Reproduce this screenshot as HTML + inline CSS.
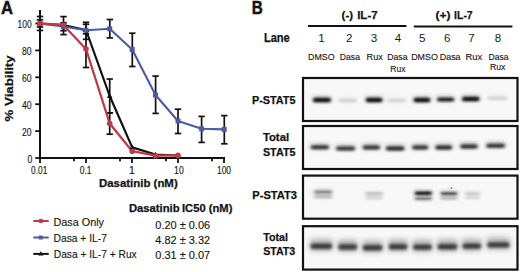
<!DOCTYPE html><html><head><meta charset="utf-8"><style>html,body{margin:0;padding:0;background:#fff;width:520px;height:272px;overflow:hidden}svg{display:block}text{font-family:"Liberation Sans",sans-serif;stroke:#1a1a1a;stroke-width:0.12px}text[font-weight]{stroke-width:0.25px}</style></head><body>
<svg width="520" height="272" viewBox="0 0 520 272">
<defs><filter id="b1" x="-30%" y="-200%" width="160%" height="500%"><feGaussianBlur stdDeviation="1.6 1.1"/></filter><filter id="b2" x="-30%" y="-200%" width="160%" height="500%"><feGaussianBlur stdDeviation="2.2 1.6"/></filter><filter id="bg" x="0" y="0" width="100%" height="100%"><feGaussianBlur stdDeviation="3"/></filter><filter id="b3" x="-30%" y="-200%" width="160%" height="500%"><feGaussianBlur stdDeviation="1.8 1.2"/></filter><filter id="b4" x="-30%" y="-200%" width="160%" height="500%"><feGaussianBlur stdDeviation="1.8 1.5"/></filter><filter id="b5" x="-30%" y="-200%" width="160%" height="500%"><feGaussianBlur stdDeviation="2.6 2.4"/></filter></defs>
<rect width="520" height="272" fill="#fff"/>
<text x="1.0" y="13.7" font-size="17.6" font-weight="bold" textLength="12.0" lengthAdjust="spacingAndGlyphs" fill="#111" style="stroke-width:0.5px">A</text>
<g stroke="#111" stroke-width="2" fill="none">
<line x1="40" y1="10" x2="40" y2="159"/>
<line x1="39" y1="158" x2="225" y2="158"/>
</g>
<g stroke="#111" stroke-width="1.8">
<line x1="35.3" y1="23.5" x2="40" y2="23.5"/>
<line x1="35.3" y1="50.4" x2="40" y2="50.4"/>
<line x1="35.3" y1="77.3" x2="40" y2="77.3"/>
<line x1="35.3" y1="104.2" x2="40" y2="104.2"/>
<line x1="35.3" y1="131.1" x2="40" y2="131.1"/>
<line x1="35.3" y1="158.0" x2="40" y2="158.0"/>
<line x1="40.0" y1="157" x2="40.0" y2="163"/>
<line x1="86.0" y1="157" x2="86.0" y2="163"/>
<line x1="132.0" y1="157" x2="132.0" y2="163"/>
<line x1="178.0" y1="157" x2="178.0" y2="163"/>
<line x1="224.0" y1="157" x2="224.0" y2="163"/>
<line x1="74.0" y1="157" x2="74.0" y2="161.3"/>
<line x1="120.0" y1="157" x2="120.0" y2="161.3"/>
<line x1="166.0" y1="157" x2="166.0" y2="161.3"/>
<line x1="212.0" y1="157" x2="212.0" y2="161.3"/>
</g>
<text x="31.6" y="28.0" font-size="10.4" text-anchor="end" textLength="14.0" lengthAdjust="spacingAndGlyphs" fill="#111" >100</text>
<text x="31.6" y="54.9" font-size="10.4" text-anchor="end" textLength="9.6" lengthAdjust="spacingAndGlyphs" fill="#111" >80</text>
<text x="31.6" y="81.8" font-size="10.4" text-anchor="end" textLength="9.6" lengthAdjust="spacingAndGlyphs" fill="#111" >60</text>
<text x="31.6" y="108.69999999999999" font-size="10.4" text-anchor="end" textLength="9.6" lengthAdjust="spacingAndGlyphs" fill="#111" >40</text>
<text x="31.6" y="135.6" font-size="10.4" text-anchor="end" textLength="9.6" lengthAdjust="spacingAndGlyphs" fill="#111" >20</text>
<text x="32.3" y="162.5" font-size="10.4" text-anchor="end" textLength="4.8" lengthAdjust="spacingAndGlyphs" fill="#111" >0</text>
<text x="39.2" y="173.9" font-size="10.4" text-anchor="middle" textLength="16.2" lengthAdjust="spacingAndGlyphs" fill="#111" >0.01</text>
<text x="85.6" y="173.9" font-size="10.4" text-anchor="middle" textLength="11.8" lengthAdjust="spacingAndGlyphs" fill="#111" >0.1</text>
<text x="131.8" y="173.9" font-size="10.4" text-anchor="middle" fill="#111" >1</text>
<text x="178.9" y="173.9" font-size="10.4" text-anchor="middle" textLength="9.6" lengthAdjust="spacingAndGlyphs" fill="#111" >10</text>
<text x="224" y="173.9" font-size="10.4" text-anchor="middle" textLength="14.0" lengthAdjust="spacingAndGlyphs" fill="#111" >100</text>
<text x="99" y="187.1" font-size="11.3" font-weight="bold" textLength="78.7" lengthAdjust="spacingAndGlyphs" fill="#111" >Dasatinib (nM)</text>
<text transform="translate(13.4,121.4) rotate(-90)" x="0" y="0" font-size="11.6" font-weight="bold" fill="#111" textLength="66" lengthAdjust="spacingAndGlyphs">% Viability</text>
<g stroke="#111" stroke-width="1.7">
<line x1="40" y1="16.5" x2="40" y2="30.4"/>
<line x1="36.8" y1="16.5" x2="43.2" y2="16.5"/>
<line x1="36.8" y1="30.4" x2="43.2" y2="30.4"/>
<line x1="40" y1="19.8" x2="40" y2="27"/>
<line x1="36.8" y1="19.8" x2="43.2" y2="19.8"/>
<line x1="36.8" y1="27" x2="43.2" y2="27"/>
<line x1="63.5" y1="16.6" x2="63.5" y2="34.6"/>
<line x1="60.3" y1="16.6" x2="66.7" y2="16.6"/>
<line x1="60.3" y1="34.6" x2="66.7" y2="34.6"/>
<line x1="63.5" y1="22.8" x2="63.5" y2="30.7"/>
<line x1="60.3" y1="22.8" x2="66.7" y2="22.8"/>
<line x1="60.3" y1="30.7" x2="66.7" y2="30.7"/>
<line x1="86" y1="22.3" x2="86" y2="39.3"/>
<line x1="82.8" y1="22.3" x2="89.2" y2="22.3"/>
<line x1="82.8" y1="39.3" x2="89.2" y2="39.3"/>
<line x1="86" y1="24.3" x2="86" y2="33.8"/>
<line x1="82.8" y1="24.3" x2="89.2" y2="24.3"/>
<line x1="82.8" y1="33.8" x2="89.2" y2="33.8"/>
<line x1="86" y1="31" x2="86" y2="67.5"/>
<line x1="82.8" y1="31" x2="89.2" y2="31"/>
<line x1="82.8" y1="67.5" x2="89.2" y2="67.5"/>
<line x1="109.8" y1="19.5" x2="109.8" y2="37.9"/>
<line x1="106.6" y1="19.5" x2="113.0" y2="19.5"/>
<line x1="106.6" y1="37.9" x2="113.0" y2="37.9"/>
<line x1="109.7" y1="79" x2="109.7" y2="113"/>
<line x1="106.5" y1="79" x2="112.9" y2="79"/>
<line x1="106.5" y1="113" x2="112.9" y2="113"/>
<line x1="109.7" y1="113" x2="109.7" y2="134.2"/>
<line x1="106.5" y1="113" x2="112.9" y2="113"/>
<line x1="106.5" y1="134.2" x2="112.9" y2="134.2"/>
<line x1="132.3" y1="33.2" x2="132.3" y2="66.5"/>
<line x1="129.10000000000002" y1="33.2" x2="135.5" y2="33.2"/>
<line x1="129.10000000000002" y1="66.5" x2="135.5" y2="66.5"/>
<line x1="155.6" y1="76.1" x2="155.6" y2="113.4"/>
<line x1="152.4" y1="76.1" x2="158.79999999999998" y2="76.1"/>
<line x1="152.4" y1="113.4" x2="158.79999999999998" y2="113.4"/>
<line x1="178" y1="109.2" x2="178" y2="133.5"/>
<line x1="174.8" y1="109.2" x2="181.2" y2="109.2"/>
<line x1="174.8" y1="133.5" x2="181.2" y2="133.5"/>
<line x1="201.6" y1="116.4" x2="201.6" y2="142.4"/>
<line x1="198.4" y1="116.4" x2="204.79999999999998" y2="116.4"/>
<line x1="198.4" y1="142.4" x2="204.79999999999998" y2="142.4"/>
<line x1="224.3" y1="115.6" x2="224.3" y2="143.8"/>
<line x1="221.10000000000002" y1="115.6" x2="227.5" y2="115.6"/>
<line x1="221.10000000000002" y1="143.8" x2="227.5" y2="143.8"/>
</g>
<polyline points="40,23.5 63.3,25 86,30 109.7,96 132.2,147.4 155.5,154.5 178,155.5" fill="none" stroke="#111" stroke-width="2.2" stroke-linejoin="round"/>
<polyline points="40,23.5 63.3,26.5 86,30.2 109.7,28.8 132.2,49.5 155.5,95 178,121 201.6,128.8 224.2,129.4" fill="none" stroke="#4d5ba3" stroke-width="2.1" stroke-linejoin="round"/>
<polyline points="40,23.5 63.3,25 86,49 109.7,123.5 132.2,151.2 155.5,155.7 178,155.4" fill="none" stroke="#c13846" stroke-width="2.3" stroke-linejoin="round"/>
<path d="M40 20.7 L42.8 25.5 L37.2 25.5Z" fill="#111"/>
<path d="M63.3 22.2 L66.1 27 L60.5 27Z" fill="#111"/>
<path d="M86 27.2 L88.8 32 L83.2 32Z" fill="#111"/>
<path d="M109.7 93.2 L112.5 98 L106.9 98Z" fill="#111"/>
<path d="M132.2 144.6 L135.0 149.4 L129.39999999999998 149.4Z" fill="#111"/>
<path d="M155.5 151.7 L158.3 156.5 L152.7 156.5Z" fill="#111"/>
<path d="M178 152.7 L180.8 157.5 L175.2 157.5Z" fill="#111"/>
<rect x="37.5" y="21.0" width="5" height="5" fill="#4d5ba3"/>
<rect x="60.8" y="24.0" width="5" height="5" fill="#4d5ba3"/>
<rect x="83.5" y="27.7" width="5" height="5" fill="#4d5ba3"/>
<rect x="107.2" y="26.3" width="5" height="5" fill="#4d5ba3"/>
<rect x="129.7" y="47.0" width="5" height="5" fill="#4d5ba3"/>
<rect x="153.0" y="92.5" width="5" height="5" fill="#4d5ba3"/>
<rect x="175.5" y="118.5" width="5" height="5" fill="#4d5ba3"/>
<rect x="199.1" y="126.30000000000001" width="5" height="5" fill="#4d5ba3"/>
<rect x="221.7" y="126.9" width="5" height="5" fill="#4d5ba3"/>
<circle cx="40" cy="23.5" r="2.8" fill="#c13846"/>
<circle cx="63.3" cy="25" r="2.8" fill="#c13846"/>
<circle cx="86" cy="49" r="2.8" fill="#c13846"/>
<circle cx="109.7" cy="123.5" r="2.8" fill="#c13846"/>
<circle cx="132.2" cy="151.2" r="2.8" fill="#c13846"/>
<circle cx="155.5" cy="155.7" r="2.8" fill="#c13846"/>
<circle cx="178" cy="155.4" r="2.8" fill="#c13846"/>
<line x1="33.3" y1="221.0" x2="48.7" y2="221.0" stroke="#c13846" stroke-width="2"/>
<circle cx="40.8" cy="221.0" r="2.3" fill="#c13846"/>
<line x1="33.3" y1="237.5" x2="48.7" y2="237.5" stroke="#4d5ba3" stroke-width="2"/>
<rect x="38.8" y="235.5" width="4" height="4" fill="#4d5ba3"/>
<line x1="33.3" y1="253.9" x2="48.7" y2="253.9" stroke="#111" stroke-width="2"/>
<path d="M40.8 251.3 L43.4 255.5 L38.2 255.5Z" fill="#111"/>
<text x="53.5" y="226" font-size="11.2" textLength="50.5" lengthAdjust="spacingAndGlyphs" fill="#111" >Dasa Only</text>
<text x="53.5" y="241.7" font-size="11.2" textLength="53.4" lengthAdjust="spacingAndGlyphs" fill="#111" >Dasa + IL-7</text>
<text x="53.8" y="258.1" font-size="11.2" textLength="82.9" lengthAdjust="spacingAndGlyphs" fill="#111" >Dasa + IL-7 + Rux</text>
<text x="129" y="211.7" font-size="11.2" font-weight="bold" textLength="50.6" lengthAdjust="spacingAndGlyphs" fill="#111" >Dasatinib</text>
<text x="182.0" y="211.7" font-size="11.2" font-weight="bold" textLength="50.4" lengthAdjust="spacingAndGlyphs" fill="#111" >IC50 (nM)</text>
<text x="155.3" y="229" font-size="11.2" textLength="54.8" lengthAdjust="spacingAndGlyphs" fill="#111" >0.20 ± 0.06</text>
<text x="155.3" y="243.9" font-size="11.2" textLength="54.8" lengthAdjust="spacingAndGlyphs" fill="#111" >4.82 ± 3.32</text>
<text x="155.3" y="258.6" font-size="11.2" textLength="54.8" lengthAdjust="spacingAndGlyphs" fill="#111" >0.31 ± 0.07</text>
<text x="251.8" y="13.8" font-size="17.6" font-weight="bold" textLength="11.0" lengthAdjust="spacingAndGlyphs" fill="#111" style="stroke-width:0.5px">B</text>
<text x="341.6" y="19.2" font-size="11.8" font-weight="bold" textLength="11.4" lengthAdjust="spacingAndGlyphs" fill="#111" >(-)</text>
<text x="357.2" y="19.2" font-size="11.8" font-weight="bold" textLength="20.4" lengthAdjust="spacingAndGlyphs" fill="#111" >IL-7</text>
<text x="435.5" y="19.4" font-size="11.8" font-weight="bold" textLength="15.0" lengthAdjust="spacingAndGlyphs" fill="#111" >(+)</text>
<text x="454.1" y="19.4" font-size="11.8" font-weight="bold" textLength="18.6" lengthAdjust="spacingAndGlyphs" fill="#111" >IL-7</text>
<line x1="308" y1="25.9" x2="406.5" y2="25.9" stroke="#111" stroke-width="2"/>
<line x1="413.8" y1="26.5" x2="512.4" y2="26.5" stroke="#111" stroke-width="2"/>
<text x="263.9" y="42.3" font-size="12" font-weight="bold" textLength="25.8" lengthAdjust="spacingAndGlyphs" fill="#111" >Lane</text>
<text x="321.5" y="42.4" font-size="11.6" text-anchor="middle" fill="#1a1a1a" style="stroke-width:0">1</text>
<text x="349.2" y="42.4" font-size="11.6" text-anchor="middle" fill="#1a1a1a" style="stroke-width:0">2</text>
<text x="374.0" y="42.4" font-size="11.6" text-anchor="middle" fill="#1a1a1a" style="stroke-width:0">3</text>
<text x="398.1" y="42.4" font-size="11.6" text-anchor="middle" fill="#1a1a1a" style="stroke-width:0">4</text>
<text x="422.3" y="42.4" font-size="11.6" text-anchor="middle" fill="#1a1a1a" style="stroke-width:0">5</text>
<text x="447.3" y="42.4" font-size="11.6" text-anchor="middle" fill="#1a1a1a" style="stroke-width:0">6</text>
<text x="471.6" y="42.4" font-size="11.6" text-anchor="middle" fill="#1a1a1a" style="stroke-width:0">7</text>
<text x="498.0" y="42.4" font-size="11.6" text-anchor="middle" fill="#1a1a1a" style="stroke-width:0">8</text>
<text x="308" y="60.300000000000004" font-size="9.8" textLength="26.6" lengthAdjust="spacingAndGlyphs" fill="#111" >DMSO</text>
<text x="339.8" y="60.300000000000004" font-size="9.8" textLength="20.2" lengthAdjust="spacingAndGlyphs" fill="#111" >Dasa</text>
<text x="366.6" y="60.300000000000004" font-size="9.8" textLength="16.3" lengthAdjust="spacingAndGlyphs" fill="#111" >Rux</text>
<text x="387.2" y="60.300000000000004" font-size="9.8" textLength="20.4" lengthAdjust="spacingAndGlyphs" fill="#111" >Dasa</text>
<text x="390.3" y="71.5" font-size="9.8" textLength="15.1" lengthAdjust="spacingAndGlyphs" fill="#111" >Rux</text>
<text x="411.2" y="60.1" font-size="9.8" textLength="26.7" lengthAdjust="spacingAndGlyphs" fill="#111" >DMSO</text>
<text x="439.7" y="60.1" font-size="9.8" textLength="20.9" lengthAdjust="spacingAndGlyphs" fill="#111" >Dasa</text>
<text x="465.4" y="60.1" font-size="9.8" textLength="16.7" lengthAdjust="spacingAndGlyphs" fill="#111" >Rux</text>
<text x="488.6" y="60.1" font-size="9.8" textLength="20.0" lengthAdjust="spacingAndGlyphs" fill="#111" >Dasa</text>
<text x="490.0" y="69.60000000000001" font-size="9.8" textLength="15.4" lengthAdjust="spacingAndGlyphs" fill="#111" >Rux</text>
<text x="251.9" y="103.7" font-size="11.2" font-weight="bold" textLength="43.6" lengthAdjust="spacingAndGlyphs" fill="#111" >P-STAT5</text>
<text x="262.9" y="141" font-size="11.2" font-weight="bold" textLength="26.2" lengthAdjust="spacingAndGlyphs" fill="#111" >Total</text>
<text x="262.9" y="156.1" font-size="11.2" font-weight="bold" textLength="32.6" lengthAdjust="spacingAndGlyphs" fill="#111" >STAT5</text>
<text x="252.3" y="199.2" font-size="11.2" font-weight="bold" textLength="44.7" lengthAdjust="spacingAndGlyphs" fill="#111" >P-STAT3</text>
<text x="263.2" y="240.5" font-size="11.2" font-weight="bold" textLength="24.8" lengthAdjust="spacingAndGlyphs" fill="#111" >Total</text>
<text x="263.2" y="255.4" font-size="11.2" font-weight="bold" textLength="32.1" lengthAdjust="spacingAndGlyphs" fill="#111" >STAT3</text>
<rect x="303" y="78.0" width="214.5" height="43.0" fill="#f8f8f8"/>
<g filter="url(#b2)">
<rect x="312.4" y="95.0" width="19.100000000000023" height="8.4" rx="3" fill="#333" fill-opacity="0.22"/>
<rect x="337.5" y="96.0" width="20.0" height="7.4" rx="3" fill="#333" fill-opacity="0.03"/>
<rect x="365.3" y="95.0" width="17.69999999999999" height="8.4" rx="3" fill="#333" fill-opacity="0.22"/>
<rect x="387" y="96.0" width="19.5" height="7.4" rx="3" fill="#333" fill-opacity="0.03"/>
<rect x="413.1" y="95.0" width="17.69999999999999" height="8.4" rx="3" fill="#333" fill-opacity="0.22"/>
<rect x="436.6" y="94.8" width="18.099999999999966" height="8" rx="3" fill="#333" fill-opacity="0.20"/>
<rect x="461.5" y="94.0" width="18.5" height="8.4" rx="3" fill="#333" fill-opacity="0.22"/>
<rect x="487" y="93.8" width="20.5" height="7.4" rx="3" fill="#333" fill-opacity="0.03"/>
</g>
<g filter="url(#b1)">
<rect x="313.0" y="97.8" width="17.900000000000023" height="4.4" rx="2.2" fill="#121212" fill-opacity="1"/>
<rect x="338.1" y="98.8" width="18.8" height="3.4" rx="1.7" fill="#121212" fill-opacity="0.13"/>
<rect x="365.90000000000003" y="97.8" width="16.49999999999999" height="4.4" rx="2.2" fill="#121212" fill-opacity="1"/>
<rect x="387.6" y="98.8" width="18.3" height="3.4" rx="1.7" fill="#121212" fill-opacity="0.12"/>
<rect x="413.70000000000005" y="97.8" width="16.49999999999999" height="4.4" rx="2.2" fill="#121212" fill-opacity="1"/>
<rect x="437.20000000000005" y="97.6" width="16.899999999999967" height="4" rx="2.0" fill="#121212" fill-opacity="0.9"/>
<rect x="462.1" y="96.8" width="17.3" height="4.4" rx="2.2" fill="#121212" fill-opacity="1"/>
<rect x="487.6" y="96.6" width="19.3" height="3.4" rx="1.7" fill="#121212" fill-opacity="0.12"/>
</g>
<rect x="303" y="78.0" width="214.5" height="43.0" fill="none" stroke="#111" stroke-width="2.2"/>
<rect x="303" y="126.0" width="214.5" height="43.0" fill="#f8f8f8"/>
<g filter="url(#b2)">
<rect x="310.3" y="142.39999999999998" width="19.099999999999966" height="8" rx="3" fill="#333" fill-opacity="0.24"/>
<rect x="335.6" y="143.6" width="20.0" height="8" rx="3" fill="#333" fill-opacity="0.23"/>
<rect x="362.2" y="142.6" width="18.30000000000001" height="8" rx="3" fill="#333" fill-opacity="0.24"/>
<rect x="385.5" y="143.6" width="19.30000000000001" height="8" rx="3" fill="#333" fill-opacity="0.25"/>
<rect x="411.7" y="142.6" width="17.0" height="8" rx="3" fill="#333" fill-opacity="0.24"/>
<rect x="434.9" y="142.6" width="17.700000000000045" height="8" rx="3" fill="#333" fill-opacity="0.25"/>
<rect x="459.8" y="141.6" width="18.30000000000001" height="8" rx="3" fill="#333" fill-opacity="0.25"/>
<rect x="485.8" y="140.89999999999998" width="19.69999999999999" height="8" rx="3" fill="#333" fill-opacity="0.24"/>
</g>
<g filter="url(#b1)">
<rect x="310.90000000000003" y="145.2" width="17.899999999999967" height="4" rx="2.0" fill="#1c1c1c" fill-opacity="0.85"/>
<rect x="336.20000000000005" y="146.4" width="18.8" height="4" rx="2.0" fill="#1c1c1c" fill-opacity="0.82"/>
<rect x="362.8" y="145.4" width="17.100000000000012" height="4" rx="2.0" fill="#1c1c1c" fill-opacity="0.85"/>
<rect x="386.1" y="146.4" width="18.100000000000012" height="4" rx="2.0" fill="#1c1c1c" fill-opacity="0.9"/>
<rect x="412.3" y="145.4" width="15.8" height="4" rx="2.0" fill="#1c1c1c" fill-opacity="0.85"/>
<rect x="435.5" y="145.4" width="16.500000000000046" height="4" rx="2.0" fill="#1c1c1c" fill-opacity="0.9"/>
<rect x="460.40000000000003" y="144.4" width="17.100000000000012" height="4" rx="2.0" fill="#1c1c1c" fill-opacity="0.88"/>
<rect x="486.40000000000003" y="143.7" width="18.49999999999999" height="4" rx="2.0" fill="#1c1c1c" fill-opacity="0.85"/>
</g>
<rect x="303" y="126.0" width="214.5" height="43.0" fill="none" stroke="#111" stroke-width="2.2"/>
<rect x="303" y="175.6" width="214.5" height="43.1" fill="#f8f8f8"/>
<g filter="url(#b2)">
<rect x="313.4" y="188.4" width="19.30000000000001" height="6" rx="3" fill="#333" fill-opacity="0.12"/>
<rect x="313.4" y="193.50000000000003" width="19.30000000000001" height="5.4" rx="3" fill="#333" fill-opacity="0.07"/>
<rect x="365" y="190.50000000000003" width="18.19999999999999" height="5.4" rx="3" fill="#333" fill-opacity="0.06"/>
<rect x="365" y="194.8" width="18.19999999999999" height="5.2" rx="3" fill="#333" fill-opacity="0.04"/>
<rect x="414.2" y="189.50000000000003" width="18.19999999999999" height="6.4" rx="3" fill="#333" fill-opacity="0.25"/>
<rect x="414.2" y="195.1" width="18.19999999999999" height="5.8" rx="3" fill="#333" fill-opacity="0.14"/>
<rect x="440.1" y="190.1" width="17.69999999999999" height="5.8" rx="3" fill="#333" fill-opacity="0.20"/>
<rect x="440.1" y="194.8" width="17.69999999999999" height="5.4" rx="3" fill="#333" fill-opacity="0.08"/>
<rect x="464.4" y="190.5" width="16.200000000000045" height="5.2" rx="3" fill="#333" fill-opacity="0.05"/>
<rect x="464.4" y="194.60000000000002" width="16.200000000000045" height="5.2" rx="3" fill="#333" fill-opacity="0.03"/>
</g>
<g filter="url(#b3)">
<rect x="314.0" y="190.5" width="18.100000000000012" height="3" rx="1.5" fill="#1e1e1e" fill-opacity="0.5"/>
<rect x="314.0" y="195.60000000000002" width="18.100000000000012" height="2.4" rx="1.2" fill="#1e1e1e" fill-opacity="0.3"/>
<rect x="365.6" y="192.60000000000002" width="16.99999999999999" height="2.4" rx="1.2" fill="#1e1e1e" fill-opacity="0.25"/>
<rect x="365.6" y="196.9" width="16.99999999999999" height="2.2" rx="1.1" fill="#1e1e1e" fill-opacity="0.18"/>
<rect x="414.8" y="191.60000000000002" width="16.99999999999999" height="3.4" rx="1.7" fill="#1e1e1e" fill-opacity="1"/>
<rect x="414.8" y="197.2" width="16.99999999999999" height="2.8" rx="1.4" fill="#1e1e1e" fill-opacity="0.55"/>
<rect x="440.70000000000005" y="192.2" width="16.49999999999999" height="2.8" rx="1.4" fill="#1e1e1e" fill-opacity="0.8"/>
<rect x="440.70000000000005" y="196.9" width="16.49999999999999" height="2.4" rx="1.2" fill="#1e1e1e" fill-opacity="0.32"/>
<rect x="465.0" y="192.6" width="15.000000000000046" height="2.2" rx="1.1" fill="#1e1e1e" fill-opacity="0.2"/>
<rect x="465.0" y="196.70000000000002" width="15.000000000000046" height="2.2" rx="1.1" fill="#1e1e1e" fill-opacity="0.13"/>
</g>
<circle cx="451.5" cy="187.8" r="0.9" fill="#777"/>
<rect x="303" y="175.6" width="214.5" height="43.1" fill="none" stroke="#111" stroke-width="2.2"/>
<rect x="303" y="226.2" width="214.5" height="43.4" fill="#f8f8f8"/>
<g filter="url(#b5)">
<rect x="309.9" y="238.70000000000002" width="22.80000000000001" height="12.4" rx="3" fill="#333" fill-opacity="0.34"/>
<rect x="337.7" y="239.4" width="20.0" height="12.4" rx="3" fill="#333" fill-opacity="0.34"/>
<rect x="362.2" y="240.20000000000002" width="20.80000000000001" height="12.4" rx="3" fill="#333" fill-opacity="0.34"/>
<rect x="388.2" y="239.1" width="19.69999999999999" height="12.4" rx="3" fill="#333" fill-opacity="0.34"/>
<rect x="412.5" y="239.5" width="19.899999999999977" height="12.4" rx="3" fill="#333" fill-opacity="0.34"/>
<rect x="437" y="239.1" width="20.80000000000001" height="12.4" rx="3" fill="#333" fill-opacity="0.34"/>
<rect x="461.9" y="238.5" width="19.80000000000001" height="12.4" rx="3" fill="#333" fill-opacity="0.34"/>
<rect x="486.8" y="237.3" width="23.30000000000001" height="12.4" rx="3" fill="#333" fill-opacity="0.34"/>
</g>
<g filter="url(#b4)">
<rect x="310.5" y="243.60000000000002" width="21.600000000000012" height="5.4" rx="2.7" fill="#2c2c2c" fill-opacity="0.9"/>
<rect x="338.3" y="244.3" width="18.8" height="5.4" rx="2.7" fill="#2c2c2c" fill-opacity="0.9"/>
<rect x="362.8" y="245.10000000000002" width="19.600000000000012" height="5.4" rx="2.7" fill="#2c2c2c" fill-opacity="0.9"/>
<rect x="388.8" y="244.0" width="18.49999999999999" height="5.4" rx="2.7" fill="#2c2c2c" fill-opacity="0.9"/>
<rect x="413.1" y="244.4" width="18.699999999999978" height="5.4" rx="2.7" fill="#2c2c2c" fill-opacity="0.9"/>
<rect x="437.6" y="244.0" width="19.600000000000012" height="5.4" rx="2.7" fill="#2c2c2c" fill-opacity="0.9"/>
<rect x="462.5" y="243.4" width="18.600000000000012" height="5.4" rx="2.7" fill="#2c2c2c" fill-opacity="0.9"/>
<rect x="487.40000000000003" y="242.20000000000002" width="22.100000000000012" height="5.4" rx="2.7" fill="#2c2c2c" fill-opacity="0.9"/>
</g>
<rect x="303" y="226.2" width="214.5" height="43.4" fill="none" stroke="#111" stroke-width="2.2"/>
</svg></body></html>
